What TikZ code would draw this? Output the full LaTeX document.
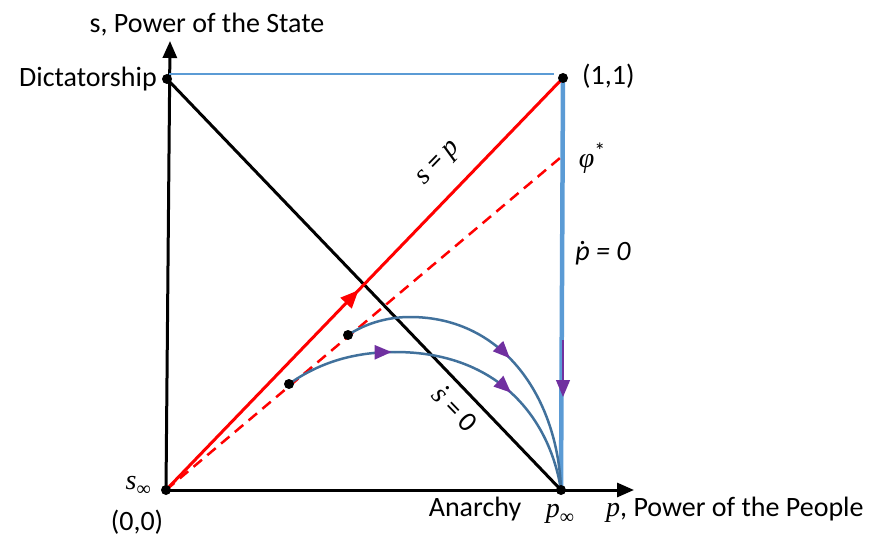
\documentclass[tikz,border=0pt]{standalone}
\usepackage{fontspec}
\setmainfont{Carlito}
\newfontfamily\varfont{Liberation Serif}
\usetikzlibrary{arrows.meta,decorations.markings}
\definecolor{lineblue}{RGB}{91,155,213}
\definecolor{curveblue}{RGB}{65,113,156}
\definecolor{arrpurple}{RGB}{112,48,160}
\definecolor{pure red}{RGB}{255,0,0}
\newcommand{\vv}[1]{{\varfont\itshape #1}}
\newcommand{\subinf}{\raisebox{-0.22em}{\varfont\fontsize{20}{20}\selectfont ∞}}
\newcommand{\dotted}[1]{\ooalign{#1\cr\hidewidth\raisebox{0.6em}{\upshape.}\hidewidth\cr}}
\begin{document}
\begin{tikzpicture}[x=1pt,y=-1pt,
  font=\fontsize{28}{32}\selectfont,
  dotnode/.style={circle,fill=black,inner sep=0pt,minimum size=10pt},
  axisline/.style={line width=3pt,-{Triangle[length=17pt,width=14pt]}},
  traj/.style={curveblue,line width=2.5pt},
  purplemark/.style={postaction={decorate},decoration={markings,
     mark=at position #1 with {\arrow[arrpurple]{Triangle[length=17pt,width=14pt]}}}},
  lbl/.style={inner sep=0pt}]
\useasboundingbox (0,0) rectangle (883,537);
% key points
\coordinate (o) at (166,490);
\coordinate (one) at (563,78);
\coordinate (dict) at (167,79);
\coordinate (pinf) at (561,490);
\coordinate (ytip) at (170,41);
\coordinate (xtip) at (634,490);
\coordinate (dtop) at (169,74);
\coordinate (toptail) at (554,74);
\coordinate (phi) at (560,158);
\coordinate (c1s) at (348,335);
\coordinate (c1p) at (410,317);
\coordinate (c2s) at (289,384);
\coordinate (c2p) at (395,352);
\coordinate (va1) at (563,340);
\coordinate (va2) at (563,397);
% axes
\draw[axisline] (o) -- (ytip);
\draw[axisline] (o) -- (xtip);
% thin top line
\draw[lineblue,line width=2pt] (dtop) -- (toptail);
% p-dot = 0 line
\draw[lineblue,line width=4.5pt] (one) -- (pinf);
\draw[arrpurple,line width=1.2pt,-{Triangle[length=17pt,width=14pt]}] (va1) -- (va2);
% s-dot = 0 line
\draw[black,line width=3pt] (dict) -- (pinf);
% s = p
\draw[pure red,line width=3pt,postaction={decorate},decoration={markings,
   mark=at position 0.485 with {\arrow{Triangle[length=18pt,width=15pt]}}}] (o) -- (one);
% phi* dashed
\draw[pure red,line width=2.5pt,dash pattern=on 11pt off 7pt] (o) -- (phi);
% trajectories
\draw[traj,purplemark=0.55] (c1s) .. controls (368,322) and (390,317) .. (c1p)
   .. controls (505,317) and (558,400) .. (pinf);
\draw[traj,purplemark=0.97] (c2s) .. controls (320,362) and (355,352) .. (c2p);
\draw[traj,purplemark=0.53] (c2p) .. controls (500,352) and (550,420) .. (pinf);
% dots
\node[dotnode] (d-o) at (o) {};
\node[dotnode] (d-one) at (one) {};
\node[dotnode] (d-dict) at (dict) {};
\node[dotnode] (d-pinf) at (pinf) {};
\node[dotnode] (d-c1) at (c1s) {};
\node[dotnode] (d-c2) at (c2s) {};
% labels
\node[lbl,anchor=base] (ylab) at (207,33) {s, Power of the State};
\node[lbl,anchor=base east] (dictlab) at (157,87) {Dictatorship};
\node[lbl,anchor=base west] (onelab) at (582,85) {(1,1)};
\node[lbl] (philab) at (592,158) {\vv{φ}\raisebox{0.3em}{\fontsize{22}{22}\selectfont *}};
\node[lbl] (pdotlab) at (603,252) {\textit{\dotted{p} = 0}};
\node[lbl,rotate=46] (sp) at (440,164) {\vv{s} = \vv{p}};
\node[lbl,rotate=-46] (sdot) at (455,409) {\vv{\dotted{s}} = 0};
\node[lbl,anchor=base east] (sinf) at (151,489) {\vv{s}\subinf};
\node[lbl,anchor=base] (orig) at (137,530) {(0,0)};
\node[lbl,anchor=base] (anar) at (475,516) {Anarchy};
\node[lbl,anchor=base] (pinflab) at (560,517) {\vv{p}\subinf};
\node[lbl,anchor=base west] (xlab) at (606,516) {\vv{p}, Power of the People};
\end{tikzpicture}
\end{document}
